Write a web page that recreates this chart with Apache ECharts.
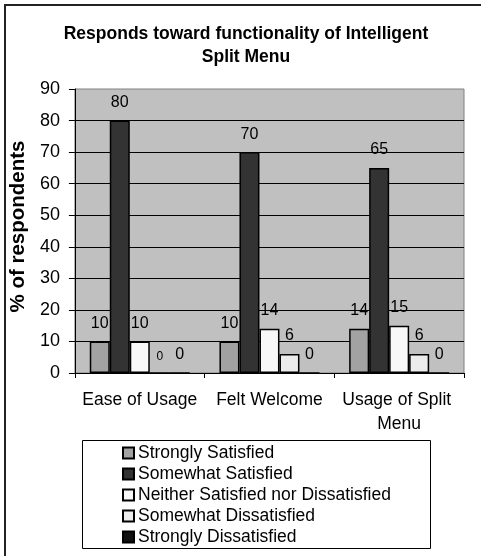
<!DOCTYPE html>
<html>
<head>
<meta charset="utf-8">
<script src="https://cdn.jsdelivr.net/npm/echarts@6/dist/echarts.min.js"></script>
<style>
  html, body { margin: 0; padding: 0; background: #ffffff; }
  #chart { width: 481px; height: 556px; }
</style>
</head>
<body>
<div id="chart"></div>
<script>
// Survey categories and response percentages
var categories = ['Ease of Usage', 'Felt Welcome', 'Usage of Split Menu'];
var stronglySatisfied = [10, 10, 14];
var somewhatSatisfied = [80, 70, 65];
var neitherSatisfied = [10, 14, 15];
var somewhatDissatisfied = [0, 6, 6];
var stronglyDissatisfied = [0, 0, 0];
var yTicks = [0, 10, 20, 30, 40, 50, 60, 70, 80, 90];

var FONT = '"Liberation Sans", Arial, sans-serif';

var seriesDefs = [
  { name: 'Strongly Satisfied', data: stronglySatisfied, color: '#a2a2a2' },
  { name: 'Somewhat Satisfied', data: somewhatSatisfied, color: '#333333' },
  { name: 'Neither Satisfied nor Dissatisfied', data: neitherSatisfied, color: '#f8f8f8' },
  { name: 'Somewhat Dissatisfied', data: somewhatDissatisfied, color: '#ececec' },
  { name: 'Strongly Dissatisfied', data: stronglyDissatisfied, color: '#111111' }
];

var series = seriesDefs.map(function (s, si) {
  return {
    name: s.name,
    type: 'bar',
    barWidth: 20,
    barGap: '0%',
    itemStyle: { color: s.color, borderColor: '#000000', borderWidth: 1.5 },
    label: {
      show: true,
      position: 'top',
      distance: 10,
      color: '#000000',
      fontFamily: FONT,
      fontSize: 16
    },
    // the first zero label of the dissatisfied series is set in a smaller size
    data: s.data.map(function (v, i) {
      if (si === 3 && i === 0) {
        return { value: v, label: { fontSize: 12 } };
      }
      return v;
    })
  };
});

var chart = echarts.init(document.getElementById('chart'), null, { renderer: 'canvas' });
chart.setOption({
  animation: false,
  backgroundColor: '#ffffff',
  title: {
    text: 'Responds toward functionality of Intelligent\nSplit Menu',
    left: 241,
    top: 18,
    textAlign: 'center',
    textStyle: {
      fontFamily: FONT,
      fontWeight: 'bold',
      fontSize: 17.5,
      lineHeight: 23,
      color: '#000000'
    }
  },
  grid: {
    left: 72,
    top: 89,
    right: 17,
    bottom: 183,
    show: true,
    backgroundColor: '#c0c0c0',
    borderColor: '#808080',
    borderWidth: 1
  },
  legend: {
    orient: 'vertical',
    left: 122,
    top: 444,
    icon: 'rect',
    itemWidth: 11,
    itemHeight: 11,
    itemGap: 3,
    padding: 0,
    textStyle: { fontFamily: FONT, fontSize: 17.5, color: '#000000', padding: [0, 0, 0, -1] },
    data: seriesDefs.map(function (s) { return s.name; })
  },
  xAxis: {
    type: 'category',
    data: categories,
    axisLine: { lineStyle: { color: '#000000', width: 1 } },
    axisTick: { show: true, length: 5, lineStyle: { color: '#000000' } },
    axisLabel: {
      interval: 0,
      hideOverlap: false,
      fontFamily: FONT,
      fontSize: 17.5,
      color: '#000000',
      margin: 15,
      lineHeight: 24,
      width: 126,
      overflow: 'break'
    },
    splitLine: { show: false }
  },
  yAxis: {
    type: 'value',
    min: yTicks[0],
    max: yTicks[yTicks.length - 1],
    interval: 10,
    name: '% of respondents',
    nameLocation: 'middle',
    nameGap: 39,
    nameTextStyle: { fontFamily: FONT, fontWeight: 'bold', fontSize: 20.5, color: '#000000', padding: [0, 0, 0, 9] },
    axisLine: { show: true, lineStyle: { color: '#000000', width: 1 } },
    axisTick: { show: true, length: 6, lineStyle: { color: '#000000' } },
    axisLabel: { fontFamily: FONT, fontSize: 18, color: '#000000', margin: 15 },
    splitLine: { show: true, showMaxLine: false, lineStyle: { color: '#000000', width: 1 } }
  },
  graphic: [
    {
      // outer chart frame
      type: 'rect',
      shape: { x: 5, y: 5, width: 520, height: 600 },
      style: { fill: null, stroke: '#222222', lineWidth: 2 },
      silent: true
    },
    {
      // legend frame
      type: 'rect',
      shape: { x: 82.5, y: 440.5, width: 348, height: 108 },
      style: { fill: null, stroke: '#000000', lineWidth: 1 },
      silent: true
    }
  ],
  series: series
});
</script>
</body>
</html>
